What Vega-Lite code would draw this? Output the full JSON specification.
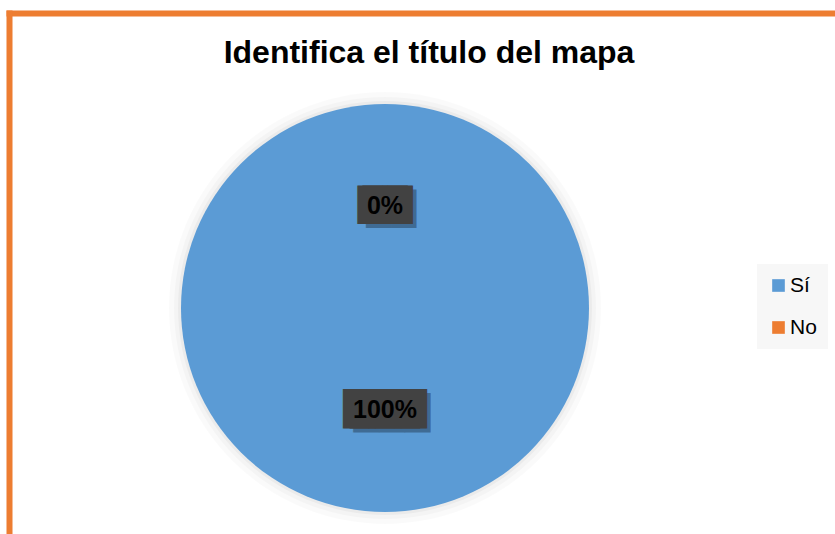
{
  "$schema": "https://vega.github.io/schema/vega-lite/v6.json",
  "width": 752,
  "height": 452,
  "autosize": {"type": "none"},
  "padding": {"left": 9, "top": 82, "right": 74, "bottom": 0},
  "background": "white",
  "config": {"view": {"stroke": null}, "font": "Liberation Sans"},
  "title": {
    "text": "Identifica el título del mapa",
    "font": "Liberation Sans",
    "fontSize": 32,
    "fontWeight": "bold",
    "color": "#000000",
    "anchor": "middle",
    "frame": "group",
    "baseline": "alphabetic",
    "offset": 0,
    "dx": 44,
    "dy": 85
  },
  "data": {
    "values": [
      {"respuesta": "Sí", "valor": 100, "porcentaje": "100%"},
      {"respuesta": "No", "valor": 0, "porcentaje": "0%"}
    ]
  },
  "layer": [
    {
      "mark": {"type": "point", "opacity": 0},
      "encoding": {
        "x": {
          "field": "valor", "type": "quantitative",
          "scale": {"range": [0, 830]},
          "axis": {"orient": "top", "offset": 69, "labels": false, "ticks": false, "grid": false, "title": null, "domainColor": "#ED7D31", "domainWidth": 6, "domainCap": "square"}
        },
        "y": {
          "field": "valor", "type": "quantitative",
          "scale": {"range": [452, -69]},
          "axis": {"orient": "left", "labels": false, "ticks": false, "grid": false, "title": null, "domainColor": "#ED7D31", "domainWidth": 6, "domainCap": "square"}
        }
      }
    },
    {
      "mark": {"type": "arc", "outerRadius": 216, "color": "#000000", "opacity": 0.018},
      "encoding": {"theta": {"field": "valor", "type": "quantitative", "stack": true}, "order": {"field": "valor", "sort": "descending"}}
    },
    {
      "mark": {"type": "arc", "outerRadius": 211, "color": "#000000", "opacity": 0.025},
      "encoding": {"theta": {"field": "valor", "type": "quantitative", "stack": true}, "order": {"field": "valor", "sort": "descending"}}
    },
    {
      "mark": {"type": "arc", "outerRadius": 207, "color": "#000000", "opacity": 0.035},
      "encoding": {"theta": {"field": "valor", "type": "quantitative", "stack": true}, "order": {"field": "valor", "sort": "descending"}}
    },
    {
      "mark": {"type": "arc", "outerRadius": 204},
      "encoding": {
        "theta": {"field": "valor", "type": "quantitative", "stack": true},
        "order": {"field": "valor", "sort": "descending"},
        "color": {
          "field": "respuesta", "type": "nominal",
          "scale": {"domain": ["Sí", "No"], "range": ["#5B9BD5", "#ED7D31"]},
          "legend": {
            "title": null, "orient": "none", "legendX": 748, "legendY": 182,
            "fillColor": "#f7f7f7", "padding": 11,
            "symbolType": "square", "symbolSize": 160, "symbolStrokeWidth": 0,
            "labelFont": "Liberation Sans", "labelFontSize": 21, "labelColor": "#000000",
            "rowPadding": 20, "labelOffset": 1
          }
        }
      }
    },
    {
      "transform": [{"filter": "datum.respuesta == 'No'"}],
      "mark": {"type": "text", "radius": 102, "font": "DejaVu Sans", "fontSize": 32.5, "text": "██", "color": "#000000", "opacity": 0.3, "dx": 6, "dy": 4, "baseline": "middle", "align": "center"},
      "encoding": {"theta": {"field": "valor", "type": "quantitative", "stack": true}, "order": {"field": "valor", "sort": "descending"}}
    },
    {
      "transform": [{"filter": "datum.respuesta == 'No'"}],
      "mark": {"type": "text", "radius": 102, "font": "DejaVu Sans", "fontSize": 32.5, "text": "██", "color": "#424242", "dx": -2.6, "baseline": "middle", "align": "center"},
      "encoding": {"theta": {"field": "valor", "type": "quantitative", "stack": true}, "order": {"field": "valor", "sort": "descending"}}
    },
    {
      "transform": [{"filter": "datum.respuesta == 'No'"}],
      "mark": {"type": "text", "radius": 102, "font": "DejaVu Sans", "fontSize": 32.5, "text": "██", "color": "#424242", "dx": 2.6, "baseline": "middle", "align": "center"},
      "encoding": {"theta": {"field": "valor", "type": "quantitative", "stack": true}, "order": {"field": "valor", "sort": "descending"}}
    },
    {
      "transform": [{"filter": "datum.respuesta == 'Sí'"}],
      "mark": {"type": "text", "radius": 102, "font": "DejaVu Sans", "fontSize": 33.3, "text": "███", "color": "#000000", "opacity": 0.3, "dx": 7, "dy": 4, "baseline": "middle", "align": "center"},
      "encoding": {"theta": {"field": "valor", "type": "quantitative", "stack": true}, "order": {"field": "valor", "sort": "descending"}}
    },
    {
      "transform": [{"filter": "datum.respuesta == 'Sí'"}],
      "mark": {"type": "text", "radius": 102, "font": "DejaVu Sans", "fontSize": 33.3, "text": "███", "color": "#424242", "dx": -3.4, "baseline": "middle", "align": "center"},
      "encoding": {"theta": {"field": "valor", "type": "quantitative", "stack": true}, "order": {"field": "valor", "sort": "descending"}}
    },
    {
      "transform": [{"filter": "datum.respuesta == 'Sí'"}],
      "mark": {"type": "text", "radius": 102, "font": "DejaVu Sans", "fontSize": 33.3, "text": "███", "color": "#424242", "dx": 3.4, "baseline": "middle", "align": "center"},
      "encoding": {"theta": {"field": "valor", "type": "quantitative", "stack": true}, "order": {"field": "valor", "sort": "descending"}}
    },
    {
      "mark": {"type": "text", "radius": 102, "font": "Liberation Sans", "fontSize": 25, "fontWeight": "bold", "color": "#000000", "baseline": "middle", "align": "center"},
      "encoding": {
        "theta": {"field": "valor", "type": "quantitative", "stack": true},
        "order": {"field": "valor", "sort": "descending"},
        "text": {"field": "porcentaje"}
      }
    }
  ]
}
